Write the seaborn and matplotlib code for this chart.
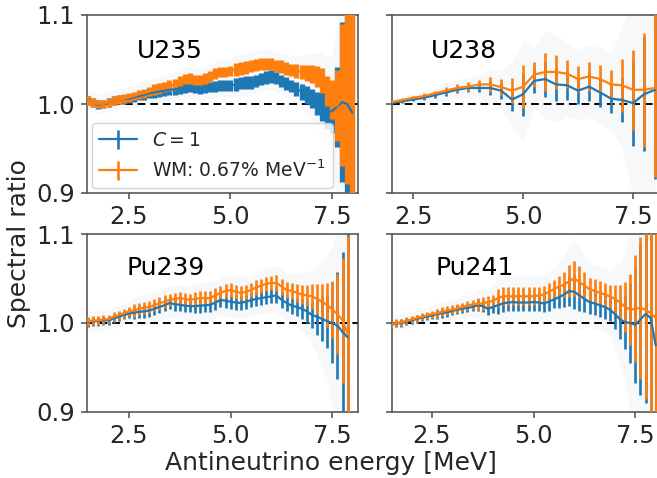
import numpy as np
import matplotlib
matplotlib.use("Agg")
import matplotlib.pyplot as plt
import seaborn as sns
from matplotlib.lines import Line2D
from matplotlib.container import ErrorbarContainer

sns.set_theme(style="ticks")
plt.rcParams['font.family'] = ['DejaVu Sans']

BLUE = "#1f77b4"
ORANGE = "#ff7f0e"

# ---------------- data ----------------
isotopes = ["U235", "U238", "Pu239", "Pu241"]
legend_labels = ["$C = 1$", "WM: 0.67% MeV$^{-1}$"]

# U235 (0.125 MeV bins, 1.5 - 8.0)
u235_e = np.arange(1.5, 8.0001, 0.125)
u235_wm = [1.004, 1.002, 1.000, 1.000, 1.002, 1.004, 1.005, 1.006, 1.0075, 1.009,
           1.011, 1.012, 1.014, 1.016, 1.0175, 1.019, 1.0205, 1.022, 1.026, 1.028,
           1.029, 1.027, 1.027, 1.029, 1.031, 1.034, 1.036, 1.036, 1.037, 1.039,
           1.040, 1.041, 1.043, 1.044, 1.045, 1.045, 1.045, 1.043, 1.042, 1.040,
           1.0385, 1.037, 1.036, 1.035, 1.034, 1.031, 1.026, 1.015, 1.005, 0.998,
           1.010, 1.030, 1.050]
u235_c1 = [1.004, 1.002, 0.999, 1.000, 1.002, 1.004, 1.005, 1.0055, 1.006, 1.0075,
           1.009, 1.010, 1.012, 1.013, 1.014, 1.015, 1.016, 1.0165, 1.017, 1.018,
           1.019, 1.018, 1.017, 1.018, 1.019, 1.020, 1.021, 1.021, 1.0205, 1.022,
           1.0235, 1.024, 1.024, 1.026, 1.028, 1.030, 1.031, 1.029, 1.026, 1.023,
           1.020, 1.017, 1.014, 1.010, 1.006, 1.001, 0.997, 0.991, 0.992, 0.997,
           1.002, 1.000, 0.990]
u235_err_wm = [0.005] * 13 + [0.006] * 16 + [0.007] * 12 + \
              [0.008, 0.008, 0.009, 0.010, 0.012, 0.014, 0.017, 0.022, 0.040, 0.080, 0.120, 0.150]
u235_err_c1 = [0.005] * 13 + [0.006] * 16 + [0.007] * 12 + \
              [0.008, 0.009, 0.010, 0.011, 0.013, 0.016, 0.019, 0.025, 0.045, 0.090, 0.130, 0.150]

# U238 (0.25 MeV bins, 2.0 - 8.0)
u238_e = np.arange(2.0, 8.0001, 0.25)
u238_wm = [1.002, 1.0045, 1.007, 1.009, 1.012, 1.015, 1.018, 1.0195, 1.022, 1.022,
           1.019, 1.015, 1.0195, 1.033, 1.036, 1.036, 1.034, 1.028, 1.031, 1.028,
           1.022, 1.021, 1.016, 1.016, 1.018]
u238_c1 = [1.001, 1.003, 1.005, 1.007, 1.010, 1.013, 1.016, 1.018, 1.018, 1.018,
           1.015, 1.005, 1.011, 1.026, 1.028, 1.022, 1.021, 1.015, 1.0195, 1.013,
           1.006, 1.0045, 1.001, 1.011, 1.016]
u238_err_wm = [0.002, 0.002, 0.002, 0.003, 0.003, 0.004, 0.004, 0.005, 0.005, 0.008,
               0.009, 0.014, 0.024, 0.014, 0.021, 0.019, 0.016, 0.015, 0.016, 0.016,
               0.016, 0.030, 0.045, 0.064, 0.100]
u238_err_c1 = [0.002, 0.002, 0.002, 0.003, 0.003, 0.004, 0.004, 0.005, 0.005, 0.008,
               0.009, 0.013, 0.024, 0.014, 0.020, 0.019, 0.016, 0.015, 0.016, 0.016,
               0.016, 0.025, 0.048, 0.064, 0.100]

# Pu239 (0.125 MeV bins, 1.5 - 7.875)
pu239_e = np.arange(1.5, 7.8751, 0.125)
pu239_wm = [1.002, 1.003, 1.003, 1.004, 1.0045, 1.007, 1.009, 1.011, 1.013, 1.014,
            1.016, 1.017, 1.018, 1.020, 1.022, 1.024, 1.026, 1.027, 1.028, 1.027,
            1.026, 1.027, 1.028, 1.028, 1.028, 1.031, 1.034, 1.036, 1.037, 1.035,
            1.034, 1.035, 1.037, 1.040, 1.042, 1.044, 1.045, 1.045, 1.041, 1.037,
            1.036, 1.034, 1.032, 1.031, 1.030, 1.027, 1.024, 1.020, 1.015, 1.010,
            1.003, 0.988]
pu239_c1 = [1.001, 1.002, 1.002, 1.003, 1.003, 1.005, 1.007, 1.009, 1.0105, 1.0115,
            1.0125, 1.013, 1.014, 1.016, 1.018, 1.020, 1.0225, 1.021, 1.0205, 1.0195,
            1.019, 1.019, 1.0195, 1.020, 1.0205, 1.023, 1.026, 1.025, 1.024, 1.023,
            1.0225, 1.024, 1.0255, 1.027, 1.028, 1.029, 1.030, 1.031, 1.026, 1.0225,
            1.0195, 1.018, 1.016, 1.013, 1.009, 1.007, 1.0045, 1.002, 1.000, 0.997,
            0.990, 0.984]
pu239_err_wm = [0.005] * 9 + [0.007] * 12 + [0.008] * 16 + [0.009] * 4 + \
               [0.010, 0.011, 0.012, 0.014, 0.017, 0.020, 0.025, 0.032, 0.045, 0.070, 0.110]
pu239_err_c1 = [0.005] * 9 + [0.007] * 12 + [0.008] * 16 + [0.009] * 4 + \
               [0.010, 0.011, 0.013, 0.015, 0.020, 0.025, 0.030, 0.045, 0.060, 0.090, 0.120]

# Pu241 (0.125 MeV bins, 1.5 - 8.0)
pu241_e = np.arange(1.5, 8.0001, 0.125)
pu241_wm = [0.9985, 1.000, 1.001, 1.0025, 1.004, 1.0055, 1.007, 1.0085, 1.010, 1.011,
            1.0125, 1.014, 1.015, 1.0165, 1.018, 1.0195, 1.021, 1.0215, 1.022, 1.0235,
            1.025, 1.028, 1.030, 1.030, 1.030, 1.030, 1.030, 1.030, 1.030, 1.031,
            1.032, 1.035, 1.038, 1.041, 1.043, 1.047, 1.050, 1.046, 1.042, 1.038,
            1.036, 1.034, 1.032, 1.030, 1.027, 1.023, 1.018, 1.015, 1.016, 1.017,
            1.015, 1.011, 1.006]
pu241_c1 = [0.998, 0.9995, 1.000, 1.0015, 1.003, 1.0045, 1.006, 1.007, 1.0085, 1.010,
            1.011, 1.012, 1.0135, 1.015, 1.016, 1.017, 1.018, 1.020, 1.019, 1.016,
            1.018, 1.020, 1.022, 1.023, 1.0235, 1.023, 1.023, 1.023, 1.0235, 1.023,
            1.022, 1.024, 1.0265, 1.029, 1.032, 1.036, 1.035, 1.031, 1.027, 1.0235,
            1.022, 1.020, 1.018, 1.015, 1.010, 1.004, 1.001, 1.000, 0.998, 1.004,
            1.010, 1.006, 0.975]
pu241_err_wm = [0.004] * 9 + [0.005] * 8 + [0.007] * 4 + [0.010] * 12 + \
               [0.012, 0.014, 0.018, 0.020, 0.018, 0.015] + [0.013] * 5 + \
               [0.016, 0.020, 0.028, 0.040, 0.060, 0.080, 0.100, 0.130, 0.150]
pu241_err_c1 = [0.004] * 9 + [0.005] * 8 + [0.007] * 4 + [0.010] * 12 + \
               [0.012, 0.014, 0.017, 0.019, 0.018, 0.015] + [0.013] * 5 + \
               [0.017, 0.022, 0.030, 0.045, 0.065, 0.085, 0.100, 0.130, 0.150]

panels = [
    (u235_e, u235_c1, u235_err_c1, u235_wm, u235_err_wm),
    (u238_e, u238_c1, u238_err_c1, u238_wm, u238_err_wm),
    (pu239_e, pu239_c1, pu239_err_c1, pu239_wm, pu239_err_wm),
    (pu241_e, pu241_c1, pu241_err_c1, pu241_wm, pu241_err_wm),
]

# ---------------- layout ----------------
W, H = 657, 478
fig = plt.figure(figsize=(W / 100, H / 100), dpi=100)
axw, axh = 271 / W, 178 / H
rects = [
    [87 / W, 1 - 193 / H, axw, axh],
    [392 / W, 1 - 193 / H, axw, axh],
    [87 / W, 1 - 412 / H, axw, axh],
    [392 / W, 1 - 412 / H, axw, axh],
]
xlims = [(1.47, 8.14), (2.02, 8.18), (1.47, 8.13), (1.52, 8.18)]
label_pos = [(0.185, 0.80), (0.145, 0.80), (0.145, 0.81), (0.16, 0.81)]
elw = [3.8, 1.9, 1.9, 1.9]

spine_col = "0.35"
handles = []
for i, (rect, (e, c1, ec1, wm, ewm)) in enumerate(zip(rects, panels)):
    ax = fig.add_axes(rect)
    e = np.asarray(e)
    c1 = np.asarray(c1); wm = np.asarray(wm)
    ec1 = np.asarray(ec1); ewm = np.asarray(ewm)

    # faint spread behind
    ax.fill_between(e, c1 - 2.2 * ec1, wm + 2.2 * ewm, color="#aabbd0",
                    alpha=0.10, lw=0, zorder=1)

    ax.axhline(1.0, color="black", ls=(0, (4, 2.5)), lw=1.4, zorder=2)

    eb1 = ax.errorbar(e, c1, yerr=ec1, fmt="none", ecolor=BLUE,
                      elinewidth=elw[i], capsize=0, zorder=3)
    eb2 = ax.errorbar(e, wm, yerr=ewm, fmt="none", ecolor=ORANGE,
                      elinewidth=elw[i], capsize=0, zorder=4)
    sns.lineplot(x=e, y=c1, ax=ax, color=BLUE, lw=1.6, zorder=5)
    sns.lineplot(x=e, y=wm, ax=ax, color=ORANGE, lw=1.6, zorder=6)

    if i == 0:
        for col in (BLUE, ORANGE):
            ln = Line2D([], [], color=col, lw=1.6)
            # legend-only bar, placed outside the visible x range
            ref = ax.errorbar([-50.0], [1.0], yerr=[0.01], fmt="none",
                              ecolor=col, elinewidth=1.9, capsize=0)
            handles.append(ErrorbarContainer((ln, (), ref.lines[2]),
                                             has_yerr=True))

    ax.set_xlim(*xlims[i])
    ax.set_ylim(0.9, 1.1)
    ax.set_xticks([2.5, 5.0, 7.5])
    ax.set_xticklabels(["2.5", "5.0", "7.5"])
    ax.set_yticks([0.9, 1.0, 1.1])
    if i % 2 == 0:
        ax.set_yticklabels(["0.9", "1.0", "1.1"])
    else:
        ax.set_yticklabels([])
    ax.tick_params(axis="both", labelsize=17.5, length=4, width=1.2,
                   color=spine_col, pad=4.5, direction="out")
    for sp in ax.spines.values():
        sp.set_color(spine_col)
        sp.set_linewidth(1.2)
    ax.set_xlabel(""); ax.set_ylabel("")
    ax.text(label_pos[i][0], label_pos[i][1], isotopes[i], transform=ax.transAxes,
            fontsize=18, ha="left", va="center", color="black", zorder=10)

    if i == 0:
        leg = ax.legend(handles, legend_labels, loc="lower left", fontsize=13.5,
                        frameon=True, fancybox=True, framealpha=0.85,
                        edgecolor="0.8", handlelength=2.0,
                        borderaxespad=0.25)
        leg.set_zorder(20)

fig.text(0.504, 0.031, "Antineutrino energy [MeV]", ha="center", va="center",
         fontsize=18)
fig.text(0.029, 0.49, "Spectral ratio", ha="center", va="center",
         rotation=90, fontsize=18)

fig.savefig("out.png", dpi=100)
